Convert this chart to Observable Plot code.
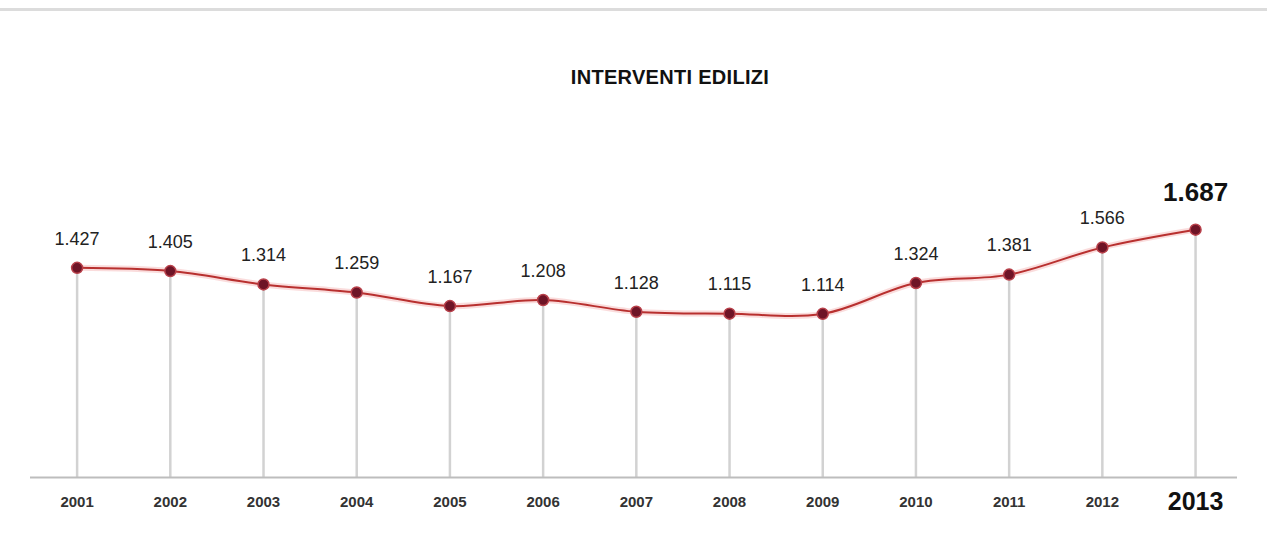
<!DOCTYPE html>
<html>
<head>
<meta charset="utf-8">
<script src="https://cdn.jsdelivr.net/npm/d3@7"></script>
<script src="https://cdn.jsdelivr.net/npm/@observablehq/plot@0.6"></script>
<style>
  html, body { margin: 0; padding: 0; background: #fff; }
  body { width: 1267px; height: 554px; position: relative; overflow: hidden; font-family: "Liberation Sans", Arial, sans-serif; }
  #toprule { position: absolute; left: 0; top: 8px; width: 1267px; border-top: 3px solid #dcdcdc; }
  #title { position: absolute; left: 470px; width: 400px; top: 66px; text-align: center; font-size: 20px; font-weight: bold; letter-spacing: 0.3px; color: #111; }
  #chart { position: absolute; left: 0; top: 100px; }
</style>
</head>
<body>
<div id="toprule"></div>
<div id="title">INTERVENTI EDILIZI</div>
<div id="chart"></div>
<script>
const years = [2001, 2002, 2003, 2004, 2005, 2006, 2007, 2008, 2009, 2010, 2011, 2012, 2013];
const values = [1427, 1405, 1314, 1259, 1167, 1208, 1128, 1115, 1114, 1324, 1381, 1566, 1687];
const highlightYear = 2013;

const data = years.map((y, i) => ({year: y, value: values[i]}));
const last = data.filter(d => d.year === highlightYear);
const rest = data.filter(d => d.year !== highlightYear);
const fmt = v => d3.format(",")(v).replace(/,/g, ".");

const chart = Plot.plot({
  width: 1267,
  height: 440,
  marginLeft: 30,
  marginRight: 30,
  marginTop: 20,
  marginBottom: 63,
  style: {fontFamily: '"Liberation Sans", Arial, sans-serif', background: "transparent"},
  x: {type: "linear", domain: [2000.5, 2013.45], axis: null},
  y: {domain: [0, 2430], axis: null},
  marks: [
    Plot.ruleX(data, {x: "year", y1: 0, y2: "value", stroke: "#d2d2d2", strokeWidth: 2.5}),
    Plot.ruleY([0], {stroke: "#bdbdbd", strokeWidth: 2}),
    Plot.line(data, {x: "year", y: "value", curve: "catmull-rom", stroke: "#f6c4c4", strokeWidth: 6, strokeOpacity: 0.6}),
    Plot.line(data, {x: "year", y: "value", curve: "catmull-rom", stroke: "#b8302f", strokeWidth: 2}),
    Plot.dot(data, {x: "year", y: "value", r: 5.5, fill: "#6e1426", stroke: "#b8404a", strokeWidth: 1.5}),
    Plot.text(rest, {x: "year", y: "value", text: d => fmt(d.value), dy: -29, fontSize: 18, fill: "#222"}),
    Plot.text(last, {x: "year", y: "value", text: d => fmt(d.value), dy: -37, fontSize: 26, fontWeight: "bold", fill: "#111"}),
    Plot.text(rest, {x: "year", y: 0, text: d => String(d.year), dy: 25, fontSize: 15, fontWeight: "bold", fill: "#333"}),
    Plot.text(last, {x: "year", y: 0, text: d => String(d.year), dy: 24, fontSize: 25, fontWeight: "bold", fill: "#111"})
  ]
});
document.getElementById("chart").appendChild(chart);
</script>
</body>
</html>
